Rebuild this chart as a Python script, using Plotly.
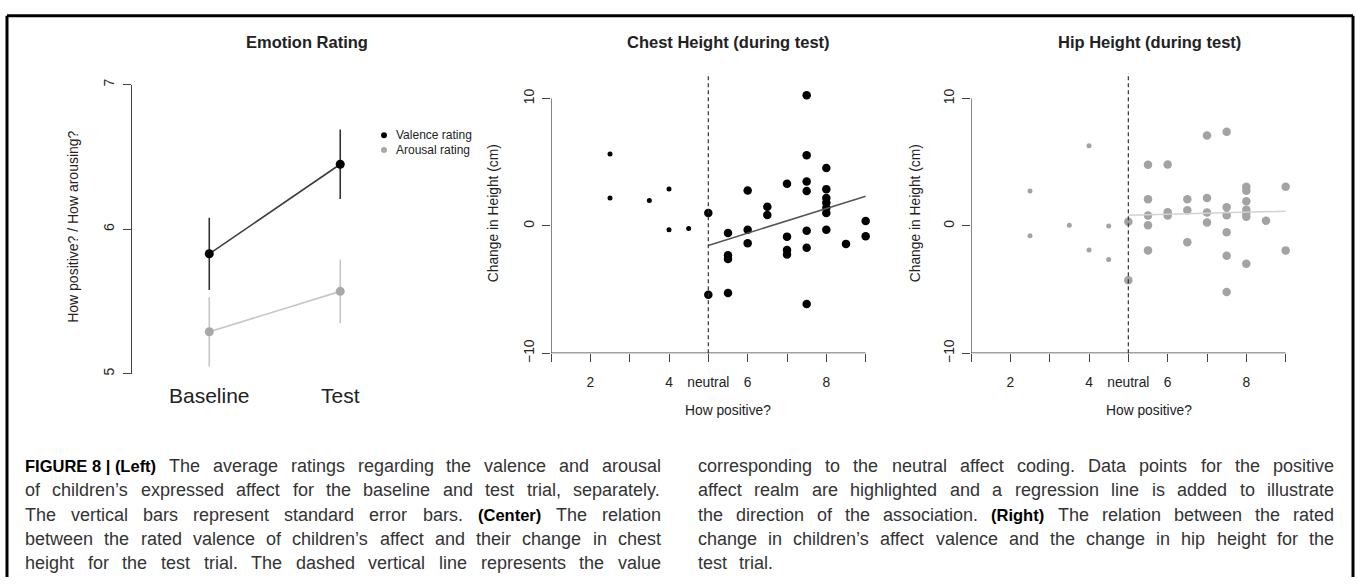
import plotly.graph_objects as go

# ---------------- data ----------------
categories = ["Baseline", "Test"]
valence_mean = [5.83, 6.45]
valence_se = [0.25, 0.24]
arousal_mean = [5.29, 5.57]
arousal_se = [0.24, 0.22]

NEUTRAL = 5

chest_x_neg = [2.5, 2.5, 3.5, 4.0, 4.0, 4.5]
chest_y_neg = [5.65, 2.2, 2.0, 2.9, -0.3, -0.2]
chest_x_pos = [5, 5, 5.5, 5.5, 5.5, 5.5, 6, 6, 6, 6.5, 6.5, 7, 7, 7, 7,
               7.5, 7.5, 7.5, 7.5, 7.5, 7.5, 7.5, 8, 8, 8, 8, 8, 8, 8, 8.5, 9, 9]
chest_y_pos = [1.02, -5.4, -0.56, -2.3, -2.6, -5.27, 2.79, -0.3, -1.36, 1.5, 0.85,
               3.32, -0.84, -1.9, -2.25, 10.26, 5.55, 3.48, 2.74, -0.38, -1.71, -6.14,
               4.55, 2.89, 2.2, 1.82, 1.43, 1.02, -0.3, -1.41, 0.38, -0.82]
chest_fit_x = [5, 9]
chest_fit_y = [-1.53, 2.33]

hip_x_neg = [2.5, 2.5, 3.5, 4.0, 4.0, 4.5, 4.5]
hip_y_neg = [2.74, -0.77, 0.05, 6.29, -1.89, 0.0, -2.63]
hip_x_pos = [5, 5, 5.5, 5.5, 5.5, 5.5, 5.5, 6, 6, 6, 6.5, 6.5, 6.5, 7, 7, 7, 7,
             7.5, 7.5, 7.5, 7.5, 7.5, 7.5, 8, 8, 8, 8, 8, 8, 8, 8.5, 9, 9]
hip_y_pos = [0.33, -4.27, 4.81, 2.1, 0.82, 0.05, -1.92, 4.83, 1.07, 0.82,
             2.1, 1.23, -1.28, 7.11, 2.2, 1.05, 0.26,
             7.39, 1.46, 0.84, -0.49, -2.35, -5.19,
             3.07, 2.76, 1.94, 1.28, 1.02, 0.72, -2.97, 0.41, 3.07, -1.92]
hip_fit_x = [5, 9]
hip_fit_y = [0.84, 1.15]

x_tickvals = [1, 2, 3, 4, 5, 6, 7, 8, 9]
x_ticktext = ["", "2", "", "4", "neutral", "6", "", "8", ""]
y_tickvals = [-10, 0, 10]
left_y_tickvals = [5, 6, 7]

titles = ["Emotion Rating", "Chest Height (during test)", "Hip Height (during test)"]
legend_labels = ["Valence rating", "Arousal rating"]

caption_left = [
    "**FIGURE 8 | (Left)** The average ratings regarding the valence and arousal",
    "of children’s expressed affect for the baseline and test trial, separately.",
    "The vertical bars represent standard error bars. **(Center)** The relation",
    "between the rated valence of children’s affect and their change in chest",
    "height for the test trial. The dashed vertical line represents the value",
]
caption_right = [
    "corresponding to the neutral affect coding. Data points for the positive",
    "affect realm are highlighted and a regression line is added to illustrate",
    "the direction of the association. **(Right)** The relation between the rated",
    "change in children’s affect valence and the change in hip height for the",
    "test trial.",
]

# ---------------- layout helpers ----------------
W, H = 1357, 587
FONT = "Liberation Sans, Arial, Helvetica, sans-serif"
TXT = "#222"
AX = "#444"


def fx(p):
    return p / W


def fy(p):
    return 1 - p / H


fig = go.Figure()

# ---- left panel ----
fig.add_trace(go.Scatter(
    x=categories, y=arousal_mean, mode="lines+markers", xaxis="x", yaxis="y",
    line=dict(color="#c6c6c6", width=1.6),
    marker=dict(color="#a8a8a8", size=9),
    error_y=dict(type="data", array=arousal_se, width=0, thickness=1.6, color="#c6c6c6"),
    showlegend=False))
fig.add_trace(go.Scatter(
    x=categories, y=valence_mean, mode="lines+markers", xaxis="x", yaxis="y",
    line=dict(color="#3c3c3c", width=1.6),
    marker=dict(color="#000000", size=9),
    error_y=dict(type="data", array=valence_se, width=0, thickness=1.6, color="#333333"),
    showlegend=False))

# ---- center panel ----
fig.add_trace(go.Scatter(x=chest_x_neg, y=chest_y_neg, mode="markers", xaxis="x2", yaxis="y2",
                         marker=dict(color="#000", size=5), showlegend=False, cliponaxis=False))
fig.add_trace(go.Scatter(x=chest_x_pos, y=chest_y_pos, mode="markers", xaxis="x2", yaxis="y2",
                         marker=dict(color="#000", size=8.5), showlegend=False, cliponaxis=False))
fig.add_trace(go.Scatter(x=chest_fit_x, y=chest_fit_y, mode="lines", xaxis="x2", yaxis="y2",
                         line=dict(color="#555", width=1.5), showlegend=False))

# ---- right panel ----
fig.add_trace(go.Scatter(x=hip_x_neg, y=hip_y_neg, mode="markers", xaxis="x3", yaxis="y3",
                         marker=dict(color="#a3a3a3", size=5), showlegend=False, cliponaxis=False))
fig.add_trace(go.Scatter(x=hip_x_pos, y=hip_y_pos, mode="markers", xaxis="x3", yaxis="y3",
                         marker=dict(color="#a3a3a3", size=8.5), showlegend=False, cliponaxis=False))
fig.add_trace(go.Scatter(x=hip_fit_x, y=hip_fit_y, mode="lines", xaxis="x3", yaxis="y3",
                         line=dict(color="#d2d2d2", width=1.5), showlegend=False))

common_tick = dict(ticks="outside", ticklen=8, tickwidth=1.3, tickcolor=AX,
                   showgrid=False, zeroline=False)

fig.update_layout(
    width=W, height=H, margin=dict(l=0, r=0, t=0, b=0),
    paper_bgcolor="white", plot_bgcolor="white",
    font=dict(family=FONT, color=TXT),
    xaxis=dict(domain=[fx(132), fx(483)], type="category", range=[-0.59, 2.09],
               showline=False, ticks="", showgrid=False, zeroline=False,
               tickfont=dict(size=21, color=TXT), ticklabelstandoff=7, anchor="y"),
    yaxis=dict(domain=[fy(378), fy(81)], range=[5, 7], tickvals=left_y_tickvals,
               tickangle=-90, showline=True, linecolor=AX, linewidth=1.3,
               tickfont=dict(size=14, color=TXT), ticklabelstandoff=3, anchor="x",
               **common_tick),
    xaxis2=dict(domain=[fx(551), fx(905)], range=[1, 10], tickvals=x_tickvals,
                ticktext=x_ticktext, showline=False, tickfont=dict(size=13.8, color=TXT),
                ticklabelstandoff=8, anchor="y2", **common_tick),
    yaxis2=dict(domain=[fy(357), fy(69)], range=[-10, 12], tickvals=y_tickvals,
                tickangle=-90, showline=False, tickfont=dict(size=13.8, color=TXT),
                ticklabelstandoff=2, anchor="x2", **common_tick),
    xaxis3=dict(domain=[fx(971), fx(1325)], range=[1, 10], tickvals=x_tickvals,
                ticktext=x_ticktext, showline=False, tickfont=dict(size=13.8, color=TXT),
                ticklabelstandoff=8, anchor="y3", **common_tick),
    yaxis3=dict(domain=[fy(357), fy(69)], range=[-10, 12], tickvals=y_tickvals,
                tickangle=-90, showline=False, tickfont=dict(size=13.8, color=TXT),
                ticklabelstandoff=2, anchor="x3", **common_tick),
)

shapes = []
# axis lines (R style: span first to last tick)
for xa, ya in (("x2", "y2"), ("x3", "y3")):
    shapes.append(dict(type="line", xref=xa, yref=ya, x0=x_tickvals[0], x1=x_tickvals[-1],
                       y0=y_tickvals[0], y1=y_tickvals[0], line=dict(color=AX, width=1.3)))
    shapes.append(dict(type="line", xref=xa, yref=ya, x0=x_tickvals[0], x1=x_tickvals[0],
                       y0=y_tickvals[0], y1=y_tickvals[-1], line=dict(color=AX, width=1.3)))
    shapes.append(dict(type="line", xref=xa, yref=ya + " domain", x0=NEUTRAL, x1=NEUTRAL,
                       y0=0, y1=1, line=dict(color="#333", width=1.2, dash="4px,3px")))

# legend symbols
for yy, col in ((133, "#000"), (148, "#a8a8a8")):
    shapes.append(dict(type="circle", xref="paper", yref="paper", xsizemode="pixel",
                       ysizemode="pixel", xanchor=fx(384), yanchor=fy(yy),
                       x0=-3, x1=3, y0=-3, y1=3, fillcolor=col, line=dict(width=0)))

# outer frame (top, left, right)
shapes.append(dict(type="line", xref="paper", yref="paper", x0=fx(7), x1=fx(1353),
                   y0=fy(10), y1=fy(10), line=dict(color="#000", width=3)))
shapes.append(dict(type="line", xref="paper", yref="paper", x0=fx(7), x1=fx(7),
                   y0=fy(10), y1=0, line=dict(color="#000", width=3)))
shapes.append(dict(type="line", xref="paper", yref="paper", x0=fx(1353), x1=fx(1353),
                   y0=fy(10), y1=0, line=dict(color="#000", width=3)))
fig.update_layout(shapes=shapes)

ann = []


def add_text(text, x, y, size, xanchor="center", angle=0, color=TXT, family=FONT):
    ann.append(dict(text=text, x=fx(x), y=fy(y), xref="paper", yref="paper",
                    showarrow=False, xanchor=xanchor, yanchor="middle", textangle=angle,
                    font=dict(size=size, color=color, family=family)))


# titles
for t, cx in zip(titles, (307, 728, 1149)):
    add_text("<b>" + t + "</b>", cx, 37, 16.5)
# axis titles
add_text("How positive? / How arousing?", 73, 227, 14, angle=-90)
add_text("Change in Height (cm)", 493, 213, 13.8, angle=-90)
add_text("Change in Height (cm)", 915, 213, 13.8, angle=-90)
add_text("How positive?", 728, 416, 13.8)
add_text("How positive?", 1149, 416, 13.8)
# legend text
add_text(legend_labels[0], 394, 133, 12, xanchor="left")
add_text(legend_labels[1], 394, 148, 12, xanchor="left")

# ---------------- caption (justified) ----------------
REG = {' ': 278, '(': 333, ')': 333, ',': 278, '-': 333, '.': 278, '/': 278, '?': 556,
       '|': 260, '’': 222, "'": 191}
for c in "0123456789":
    REG[c] = 556
REG.update(dict(zip("ABCDEFGHIJKLMNOPQRSTUVWXYZ",
                    [667, 667, 722, 722, 667, 611, 778, 722, 278, 500, 667, 556, 833, 722,
                     778, 667, 778, 722, 667, 611, 722, 667, 944, 667, 667, 611])))
REG.update(dict(zip("abcdefghijklmnopqrstuvwxyz",
                    [556, 556, 500, 556, 556, 278, 556, 556, 222, 222, 500, 222, 833, 556,
                     556, 556, 556, 333, 500, 278, 556, 500, 722, 500, 500, 500])))
BOLD = {' ': 278, '(': 333, ')': 333, '|': 280}
for c in "0123456789":
    BOLD[c] = 556
BOLD.update(dict(zip("ABCDEFGHIJKLMNOPQRSTUVWXYZ",
                     [722, 722, 722, 722, 667, 611, 778, 722, 278, 556, 722, 611, 833, 722,
                      778, 667, 778, 722, 667, 611, 722, 667, 944, 667, 667, 611])))
BOLD.update(dict(zip("abcdefghijklmnopqrstuvwxyz",
                     [556, 611, 556, 611, 556, 333, 611, 611, 278, 278, 556, 278, 889, 611,
                      611, 611, 611, 389, 556, 333, 611, 556, 778, 556, 556, 500])))
CAP_FS = 18
BOLD_FS = 16.5


def text_w(s, bold):
    tbl = BOLD if bold else REG
    size = BOLD_FS if bold else CAP_FS
    return sum(tbl.get(c, 556) for c in s) / 1000 * size + 2


def tokens(line):
    out = []
    parts = line.split("**")
    for i, p in enumerate(parts):
        if i % 2 == 1:
            out.append((p, True))
        else:
            for w in p.split():
                out.append((w, False))
    return out


def place_column(lines, x0, x1, ys, justify_last):
    for li, (line, yy) in enumerate(zip(lines, ys)):
        toks = tokens(line)
        widths = [text_w(t, b) for t, b in toks]
        last = (li == len(lines) - 1) and not justify_last
        if len(toks) > 1 and not last:
            gap = (x1 - x0 - sum(widths)) / (len(toks) - 1)
        else:
            gap = 10
        x = x0
        for (t, b), w in zip(toks, widths):
            if b:
                add_text("<b>" + t + "</b>", x, yy, BOLD_FS, xanchor="left", color="#000")
            else:
                add_text(t, x, yy, CAP_FS, xanchor="left", color="#333")
            x += w + gap


cap_ys = [473, 498, 523, 548, 573]
place_column(caption_left, 23, 661, cap_ys, True)
place_column(caption_right, 696, 1334, cap_ys, False)

fig.update_layout(annotations=ann)
fig.write_html("out.html")
